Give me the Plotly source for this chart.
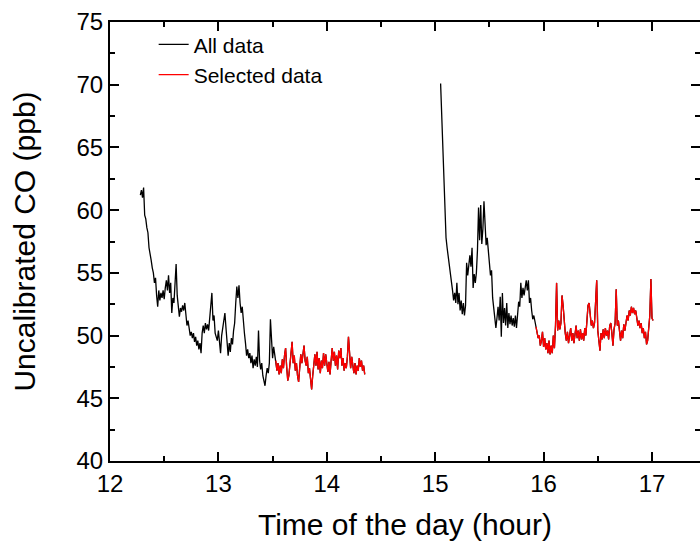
import numpy as np
import plotly.graph_objects as go

# ---- data ----
STEP = 0.01  # hours between samples

seg1_start = 12.28   # all data, first block (not selected)
seg1_co = [61.2, 61.6, 61.0, 61.8, 59.6, 59.3, 58.6, 58.2, 57.0, 56.3,
           56.0, 55.4, 55.0, 54.2, 54.6, 53.2, 52.3, 53.6, 52.8, 53.4,
           53.0, 53.6, 52.9, 53.8, 54.4, 53.6, 54.8, 53.4, 54.2, 51.8,
           53.0, 52.6, 54.0, 55.7, 53.2, 52.2, 51.5, 52.2, 51.9, 52.4,
           52.0, 52.6, 51.4, 50.8, 51.2, 50.4, 50.0, 50.3, 49.8, 50.2,
           49.5, 49.9, 49.2, 49.6, 48.9, 49.4, 48.6, 50.2, 50.8, 50.2,
           51.0, 50.5, 50.9, 50.4, 51.4, 52.4, 53.4, 51.2, 51.6, 50.2,
           49.9, 49.6, 50.4, 49.1, 48.6, 50.0, 50.7, 51.2, 51.8, 50.6,
           49.2, 48.4, 49.4, 48.7, 49.8, 49.3, 50.4, 51.0, 52.6, 53.9,
           53.0, 54.0, 52.6, 51.8, 52.3, 51.0, 50.2, 49.4, 48.4, 48.9,
           48.2, 48.6, 47.8, 48.4, 47.4, 48.1, 47.6, 48.3, 47.5, 50.4,
           48.0, 47.3, 47.8, 46.8, 46.2, 46.0, 46.8, 47.4, 47.0, 47.8,
           51.3, 49.4, 48.2, 49.1, 48.3]

seg2_start = 13.53   # selected block 1
seg2_co = [48.0, 47.2, 47.8, 46.9, 47.6, 47.0, 48.1, 47.4, 48.4, 49.0,
           47.5, 46.4, 46.8, 47.6, 48.2, 49.5, 47.8, 48.4, 47.2, 47.8,
           46.8, 46.3, 47.4, 48.5, 47.8, 48.6, 49.2, 48.0, 47.6, 48.3,
           47.0, 47.4, 46.3, 45.7, 46.8, 47.8, 48.5, 47.6, 48.7, 47.3,
           48.2, 47.0, 48.0, 47.4, 48.6, 47.6, 48.5, 47.8, 47.1, 47.9,
           46.9, 48.0, 49.0, 48.0, 48.7, 47.6, 48.4, 47.3, 48.8, 48.2,
           49.0, 47.6, 48.2, 47.2, 47.8, 47.4, 48.3, 49.9, 48.6, 47.4,
           48.3, 47.6, 47.0, 47.8, 46.9, 47.6, 47.2, 48.2, 47.5, 48.0,
           47.2, 47.6, 46.9]

seg3_start = 15.05   # all data, second block (not selected)
seg3_co = [70.1, 67.4, 64.4, 61.6, 60.6, 57.8, 57.0, 56.4, 55.6, 55.0,
           54.3, 53.6, 52.8, 53.4, 52.6, 54.2, 52.5, 53.4, 52.0, 52.8,
           51.7, 52.6, 51.6, 52.4, 55.8, 54.8, 55.6, 56.4, 55.5, 57.0,
           53.8, 54.9, 54.2, 55.0, 56.8, 60.2, 57.6, 60.4, 57.3, 58.5,
           60.7, 58.2, 57.2, 57.8, 56.4, 55.8, 54.8, 55.2, 53.0, 52.0,
           51.0, 50.6, 51.4, 52.3, 51.2, 53.1, 49.9, 53.4, 51.0, 52.2,
           50.8, 52.6, 50.6, 51.8, 50.9, 51.6, 50.8, 51.4, 50.7, 51.6,
           50.6, 51.5, 52.7, 52.3, 54.2, 53.0, 53.8, 53.2, 54.0, 54.4,
           53.6, 54.4, 52.6, 53.0, 52.0, 51.3, 51.6, 51.1]

seg4_start = 15.93   # selected block 2
seg4_co = [50.7, 50.2, 49.8, 50.0, 49.2, 49.6, 50.3, 49.1, 49.8, 48.9,
           49.4, 48.6, 49.6, 48.5, 49.2, 48.6, 50.0, 49.0, 50.8, 54.2,
           50.4, 51.2, 50.5, 51.0, 53.2, 52.4, 51.0, 50.2, 49.6, 50.3,
           49.4, 50.0, 50.6, 49.6, 50.2, 49.4, 50.3, 50.8, 49.8, 50.4,
           49.6, 50.5, 49.7, 50.2, 49.6, 50.6, 50.0, 51.4, 52.4, 52.6,
           51.6, 50.8, 51.2, 50.6, 51.0, 53.0, 54.4, 50.4, 49.6, 48.8,
           50.2, 49.7, 50.5, 49.8, 50.6, 50.0, 50.4, 49.7, 50.8, 51.0,
           50.2, 49.2, 50.5, 51.0, 53.7, 50.8, 51.2, 50.2, 49.6, 50.4,
           49.8, 50.9, 50.4, 51.0, 51.6, 51.2, 52.0, 51.6, 52.3, 51.8,
           52.2, 51.7, 52.0, 51.4, 50.8, 51.2, 50.6, 51.0, 50.2, 50.6,
           49.8, 50.3, 49.3, 49.6, 50.8, 51.6, 54.5, 51.4, 51.2]

x_ticks = [12, 13, 14, 15, 16, 17]
y_ticks = [40, 45, 50, 55, 60, 65, 70, 75]


def times(start, vals):
    return list(np.round(start + STEP * np.arange(len(vals)), 4))


t1, t2, t3, t4 = (times(seg1_start, seg1_co), times(seg2_start, seg2_co),
                  times(seg3_start, seg3_co), times(seg4_start, seg4_co))

all_t = t1 + t2 + [None] + t3 + t4
all_v = seg1_co + seg2_co + [None] + seg3_co + seg4_co
sel_t = t2 + [None] + t4
sel_v = seg2_co + [None] + seg4_co

FONT = "Arial, 'Liberation Sans', sans-serif"

fig = go.Figure()
fig.add_trace(go.Scatter(x=all_t, y=all_v, mode="lines", name="All data",
                         line=dict(color="black", width=1.3), connectgaps=False))
fig.add_trace(go.Scatter(x=sel_t, y=sel_v, mode="lines", name="Selected data",
                         line=dict(color="#ff0000", width=1.3), connectgaps=False))

axis_common = dict(
    showline=True, linecolor="black", linewidth=2, mirror="ticks",
    ticks="inside", ticklen=9, tickwidth=2, tickcolor="black",
    showgrid=False, zeroline=False, automargin=False,
    tickfont=dict(family=FONT, size=24, color="black"),
)

fig.update_xaxes(range=[12, 17.443], tickvals=x_ticks,
                 ticktext=[str(v) for v in x_ticks],
                 minor=dict(ticks="inside", ticklen=5, tickwidth=2,
                            tickcolor="black", dtick=0.5, showgrid=False),
                 title=dict(text="Time of the day (hour)",
                            font=dict(family=FONT, size=30, color="black"),
                            standoff=18),
                 **axis_common)
fig.update_yaxes(range=[40, 75], tickvals=y_ticks,
                 ticktext=[str(v) for v in y_ticks],
                 minor=dict(ticks="inside", ticklen=5, tickwidth=2,
                            tickcolor="black", dtick=2.5, showgrid=False),
                 title=dict(text="Uncalibrated CO (ppb)",
                            font=dict(family=FONT, size=30, color="black"),
                            standoff=32),
                 **axis_common)

fig.update_layout(
    width=700, height=543,
    margin=dict(l=110, r=0, t=22, b=82),
    plot_bgcolor="white", paper_bgcolor="white",
    showlegend=True,
    legend=dict(x=0.074, y=0.995, xanchor="left", yanchor="top",
                bgcolor="rgba(0,0,0,0)", borderwidth=0,
                font=dict(family=FONT, size=21, color="black"),
                tracegroupgap=0),
)

fig.write_html("out.html",
               config={"displayModeBar": False},
               post_script="document.body.style.margin='0px';"
                           "document.body.style.overflow='hidden';")
